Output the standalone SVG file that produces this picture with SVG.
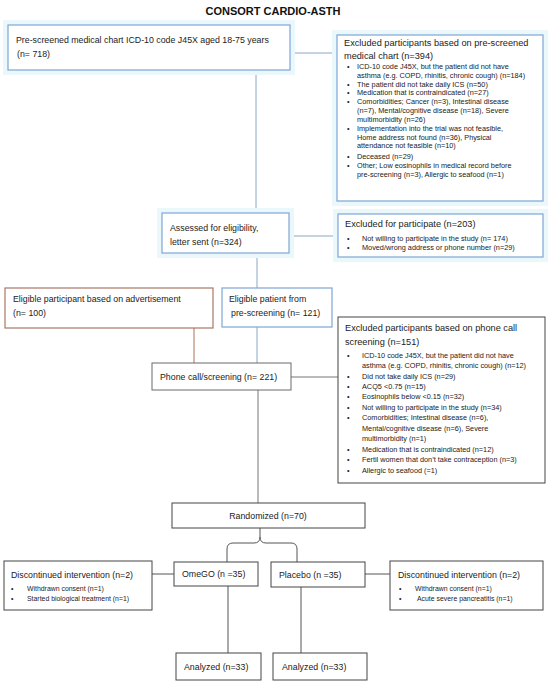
<svg xmlns="http://www.w3.org/2000/svg" width="550" height="685" viewBox="0 0 550 685">
<style>
text{font-family:"Liberation Sans",Arial,sans-serif;fill:#222}
.t{font-size:8.8px}
.h{font-size:9.2px}
.b{font-size:7.3px}
.bs{font-size:6.9px}
.title{font-size:11px;font-weight:bold;fill:#111}
.blue{fill:#fff;stroke:#7fa6d6;stroke-width:1.2}
.halo{fill:#eaf8fb;stroke:none}
.red{fill:#fff;stroke:#a97766;stroke-width:1.2}
.gray{fill:#fff;stroke:#6a6a6a;stroke-width:1}
.dark{fill:#fff;stroke:#444;stroke-width:1}
.cb{stroke:#8aa6c4;stroke-width:1;fill:none}
.cg{stroke:#777;stroke-width:1;fill:none}
.cr{stroke:#b0705a;stroke-width:1;fill:none}
.ck{stroke:#555;stroke-width:1;fill:none}
</style>
<rect width="550" height="685" fill="#fff"/>
<text class="title" x="273" y="15" text-anchor="middle">CONSORT CARDIO-ASTH</text>

<g id="connectors">
<line class="cb" x1="290" y1="53" x2="337" y2="53"/>
<line class="cb" x1="256" y1="70" x2="256" y2="213"/>
<line class="cb" x1="289" y1="236" x2="338" y2="236"/>
<line class="cb" x1="257" y1="253" x2="257" y2="288"/>
<line class="cb" x1="257" y1="327" x2="257" y2="363"/>
<line class="cr" x1="194" y1="328" x2="194" y2="363"/>
<line class="cg" x1="291" y1="377" x2="338" y2="377"/>
<line class="cg" x1="258" y1="390" x2="258" y2="503"/>
<path class="ck" d="M227,562 V549 Q227,543 233,543 H254 Q260,543 260,537 V528 M297,562 V549 Q297,543 291,543 H266 Q260,543 260,537"/>
<line class="ck" x1="152" y1="574" x2="174" y2="574"/>
<line class="ck" x1="365" y1="574" x2="390" y2="574"/>
<line class="ck" x1="228" y1="586" x2="228" y2="653"/>
<line class="ck" x1="301" y1="587" x2="301" y2="653"/>
</g>

<g id="prescreened">
<rect class="halo" x="3" y="20" width="292" height="55"/>
<rect class="blue" x="8" y="25" width="282" height="45"/>
<text class="t" x="16" y="43">Pre-screened medical chart ICD-10 code J45X aged 18-75 years</text>
<text class="t" x="17" y="57">(n= 718)</text>
</g>

<g id="excluded-chart">
<rect class="halo" x="332" y="30" width="216" height="176"/>
<rect class="blue" x="337" y="35" width="206" height="166"/>
<text class="h" x="344" y="46">Excluded participants based on pre-screened</text>
<text class="h" x="344" y="59">medical chart (n=394)</text>
<g class="b">
<text x="347" y="69">•</text><text x="357" y="69">ICD-10 code J45X, but the patient did not have</text>
<text x="357" y="77.5">asthma (e.g. COPD, rhinitis, chronic cough) (n=184)</text>
<text x="347" y="86.5">•</text><text x="357" y="86.5">The patient did not take daily ICS (n=50)</text>
<text x="347" y="95">•</text><text x="357" y="95">Medication that is contraindicated (n=27)</text>
<text x="347" y="103.5">•</text><text x="357" y="103.5">Comorbidities; Cancer (n=3), Intestinal disease</text>
<text x="357" y="112.5">(n=7), Mental/cognitive disease (n=18), Severe</text>
<text x="357" y="121.5">multimorbidity (n=26)</text>
<text x="347" y="131">•</text><text x="357" y="131">Implementation into the trial was not feasible,</text>
<text x="357" y="139.5">Home address not found (n=36), Physical</text>
<text x="357" y="148">attendance not feasible (n=10)</text>
<text x="347" y="159">•</text><text x="357" y="159">Deceased (n=29)</text>
<text x="347" y="168">•</text><text x="357" y="168">Other; Low eosinophils in medical record before</text>
<text x="357" y="176.5">pre-screening (n=3), Allergic to seafood (n=1)</text>
</g>
</g>

<g id="assessed">
<rect class="halo" x="157" y="208" width="137" height="50"/>
<rect class="blue" x="162" y="213" width="127" height="40"/>
<text class="t" x="170" y="231">Assessed for eligibility,</text>
<text class="t" x="170" y="245">letter sent (n=324)</text>
</g>

<g id="excluded-participate">
<rect class="halo" x="333" y="209" width="215" height="53"/>
<rect class="blue" x="338" y="214" width="205" height="43"/>
<text class="h" x="345" y="227">Excluded for participate (n=203)</text>
<g class="b">
<text x="347" y="240.5">•</text><text x="362" y="240.5">Not willing to participate in the study (n= 174)</text>
<text x="347" y="250">•</text><text x="362" y="250">Moved/wrong address or phone number (n=29)</text>
</g>
</g>

<g id="eligible-advert">
<rect class="red" x="5" y="288" width="208" height="40"/>
<text class="t" x="13" y="302">Eligible participant based on advertisement</text>
<text class="t" x="13" y="316">(n= 100)</text>
</g>

<g id="eligible-prescreen">
<rect class="blue" x="222" y="288" width="110" height="39"/>
<text class="t" x="229" y="302">Eligible patient from</text>
<text class="t" x="231" y="316">pre-screening (n= 121)</text>
</g>

<g id="phone">
<rect class="gray" x="152" y="363" width="139" height="27"/>
<text class="t" x="160" y="380">Phone call/screening (n= 221)</text>
</g>

<g id="excluded-phone">
<rect class="dark" x="338" y="317" width="207" height="166"/>
<text class="h" x="345" y="331">Excluded participants based on phone call</text>
<text class="h" x="345" y="345">screening (n=151)</text>
<g class="b">
<text x="347" y="357.5">•</text><text x="362" y="357.5">ICD-10 code J45X, but the patient did not have</text>
<text x="362" y="368">asthma (e.g. COPD, rhinitis, chronic cough) (n=12)</text>
<text x="347" y="378.5">•</text><text x="362" y="378.5">Did not take daily ICS (n=29)</text>
<text x="347" y="388.5">•</text><text x="362" y="388.5">ACQ5 &lt;0.75 (n=15)</text>
<text x="347" y="399">•</text><text x="362" y="399">Eosinophils below &lt;0.15 (n=32)</text>
<text x="347" y="409.5">•</text><text x="362" y="409.5">Not willing to participate in the study (n=34)</text>
<text x="347" y="420">•</text><text x="362" y="420">Comorbidities; Intestinal disease (n=6),</text>
<text x="362" y="430.5">Mental/cognitive disease (n=6), Severe</text>
<text x="362" y="441">multimorbidity (n=1)</text>
<text x="347" y="451.5">•</text><text x="362" y="451.5">Medication that is contraindicated (n=12)</text>
<text x="347" y="462">•</text><text x="362" y="462">Fertil women that don’t take contraception (n=3)</text>
<text x="347" y="472.5">•</text><text x="362" y="472.5">Allergic to seafood (=1)</text>
</g>
</g>

<g id="randomized">
<rect class="dark" x="172" y="503" width="193" height="25"/>
<text class="t" x="268" y="519" text-anchor="middle">Randomized (n=70)</text>
</g>

<g id="omego">
<rect class="dark" x="174" y="562" width="84" height="24"/>
<text class="t" x="182" y="577">OmeGO (n =35)</text>
</g>

<g id="placebo">
<rect class="dark" x="271" y="562" width="94" height="25"/>
<text class="t" x="279" y="578">Placebo (n =35)</text>
</g>

<g id="disc-left">
<rect class="dark" x="4" y="561" width="148" height="49"/>
<text class="t" x="11" y="578">Discontinued intervention (n=2)</text>
<g class="bs">
<text x="11" y="591">•</text><text x="27" y="591">Withdrawn consent (n=1)</text>
<text x="11" y="601">•</text><text x="27" y="601">Started biological treatment (n=1)</text>
</g>
</g>

<g id="disc-right">
<rect class="dark" x="390" y="561" width="153" height="49"/>
<text class="t" x="398" y="578">Discontinued intervention (n=2)</text>
<g class="bs">
<text x="399" y="591">•</text><text x="415" y="591">Withdrawn consent (n=1)</text>
<text x="399" y="601">•</text><text x="417" y="601">Acute severe pancreatitis (n=1)</text>
</g>
</g>

<g id="analyzed-left">
<rect class="dark" x="176" y="653" width="85" height="27"/>
<text class="t" x="184" y="670">Analyzed (n=33)</text>
</g>

<g id="analyzed-right">
<rect class="dark" x="273" y="653" width="94" height="27"/>
<text class="t" x="282" y="670">Analyzed (n=33)</text>
</g>
</svg>
